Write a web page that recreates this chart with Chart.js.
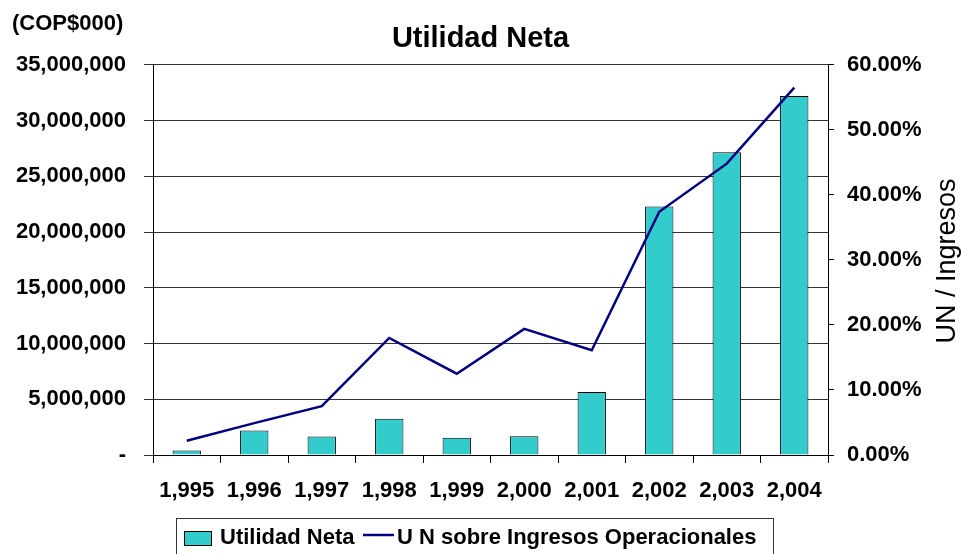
<!DOCTYPE html>
<html><head><meta charset="utf-8">
<script src="https://cdn.jsdelivr.net/npm/chart.js@4.4.1/dist/chart.umd.min.js"></script>
<style>html,body{margin:0;padding:0;background:#fff}#wrap{width:961px;height:554px}</style>
</head><body><div id="wrap"><canvas id="c" width="961" height="554"></canvas></div>
<script>
const categories = ['1,995','1,996','1,997','1,998','1,999','2,000','2,001','2,002','2,003','2,004'];
const utilidadNeta = [400000, 2200000, 1650000, 3250000, 1550000, 1680000, 5650000, 22300000, 27150000, 32200000];
const unSobreIngresos = [2.2, 4.9, 7.5, 18.0, 12.5, 19.4, 16.1, 37.4, 44.8, 56.5];
const chartTitle = 'Utilidad Neta';
const unitLabel = '(COP$000)';
const rightAxisTitle = 'UN / Ingresos';
const seriesNames = ['Utilidad Neta', 'U N sobre Ingresos Operacionales'];

const FONT = "'Liberation Sans', Arial, sans-serif";

const extras = {
  id: 'extras',
  afterDraw(chart) {
    const ctx = chart.ctx;
    ctx.save();
    ctx.fillStyle = '#000';
    ctx.font = "bold 22px " + FONT;
    ctx.textAlign = 'left';
    ctx.textBaseline = 'middle';
    ctx.fillText(unitLabel, 12, 24);

    // right axis title, reading bottom to top
    ctx.save();
    ctx.translate(948, 261);
    ctx.rotate(-Math.PI / 2);
    ctx.font = "27px " + FONT;
    ctx.textAlign = 'center';
    ctx.textBaseline = 'middle';
    ctx.fillText(rightAxisTitle, 0, 0);
    ctx.restore();

    // legend
    const barDs = chart.data.datasets.find(d => d.type === 'bar');
    const lineDs = chart.data.datasets.find(d => d.type === 'line');
    ctx.strokeStyle = '#333';
    ctx.lineWidth = 1;
    ctx.strokeRect(176.5, 518.5, 597, 60);
    ctx.fillStyle = barDs.backgroundColor;
    ctx.fillRect(184, 531, 28, 15);
    ctx.strokeStyle = '#000';
    ctx.strokeRect(184.5, 531.5, 27, 14);
    ctx.fillStyle = '#000';
    ctx.font = "bold 22px " + FONT;
    ctx.textAlign = 'left';
    ctx.textBaseline = 'middle';
    ctx.fillText(barDs.label, 220, 538);
    ctx.strokeStyle = lineDs.borderColor;
    ctx.lineWidth = 2.5;
    ctx.beginPath();
    ctx.moveTo(363, 535);
    ctx.lineTo(394, 535);
    ctx.stroke();
    ctx.fillText(lineDs.label, 397, 538);
    ctx.restore();
  }
};

new Chart(document.getElementById('c'), {
  data: {
    labels: categories,
    datasets: [
      {
        type: 'line',
        label: seriesNames[1],
        data: unSobreIngresos,
        borderColor: '#000080',
        backgroundColor: '#000080',
        borderWidth: 2.5,
        pointRadius: 0,
        tension: 0,
        fill: false,
        yAxisID: 'y1',
        order: 1
      },
      {
        type: 'bar',
        label: seriesNames[0],
        data: utilidadNeta,
        backgroundColor: '#33CCCC',
        borderColor: '#000',
        borderWidth: 1,
        barPercentage: 0.42,
        categoryPercentage: 1,
        yAxisID: 'y',
        order: 2
      }
    ]
  },
  options: {
    responsive: false,
    animation: false,
    devicePixelRatio: 1,
    layout: { padding: { left: 0, right: 0, top: 0, bottom: 0 } },
    plugins: {
      legend: { display: false },
      tooltip: { enabled: false },
      title: {
        display: true,
        text: chartTitle,
        color: '#000',
        font: { family: FONT, size: 29, weight: 'bold' },
        padding: { top: 22, bottom: 8 }
      }
    },
    scales: {
      x: {
        type: 'category',
        offset: true,
        grid: { display: true, drawOnChartArea: false, drawTicks: true, tickLength: 8, color: '#000', offset: true },
        border: { color: '#000', width: 1 },
        ticks: { color: '#000', font: { family: FONT, size: 22, weight: 'bold' }, padding: 15, maxRotation: 0, autoSkip: false },
        afterFit(s) { s.height = 99; }
      },
      y: {
        position: 'left',
        min: 0,
        max: 35000000,
        grid: { color: '#333', lineWidth: 1, tickLength: 9 },
        border: { color: '#000', width: 1 },
        ticks: {
          stepSize: 5000000,
          color: '#000',
          padding: 18,
          font: { family: FONT, size: 22, weight: 'bold' },
          callback: v => v === 0 ? '-' : v.toLocaleString('en-US')
        },
        afterFit(s) { s.width = 153; }
      },
      y1: {
        position: 'right',
        min: 0,
        max: 60,
        grid: { drawOnChartArea: false, tickLength: 6, color: '#000' },
        border: { color: '#000', width: 1 },
        ticks: {
          stepSize: 10,
          color: '#000',
          padding: 13,
          font: { family: FONT, size: 22, weight: 'bold' },
          callback: v => v.toFixed(2) + '%'
        },
        afterFit(s) { s.width = 133; }
      }
    }
  },
  plugins: [extras]
});
</script></body></html>
